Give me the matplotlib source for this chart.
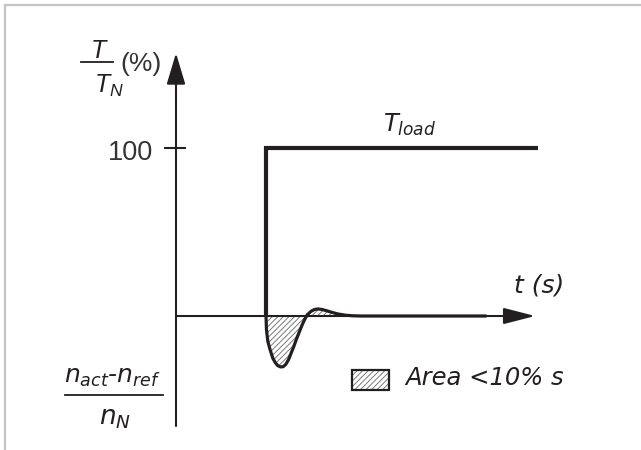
import matplotlib
matplotlib.use("Agg")
import matplotlib.pyplot as plt
from matplotlib.patches import Rectangle
from matplotlib.lines import Line2D

plt.rcParams["mathtext.fontset"] = "custom"
plt.rcParams["mathtext.it"] = "Liberation Sans:italic"
plt.rcParams["mathtext.rm"] = "Liberation Sans"
plt.rcParams["hatch.linewidth"] = 0.7

# Load torque step, percent of nominal torque
load_t = [1.0, 1.0, 4.02]
load_pct = [0, 100, 100]

# Speed deviation (n_act - n_ref) / n_N after the load step
speed_t = [1.00, 1.005, 1.02, 1.045, 1.075, 1.10, 1.13, 1.16, 1.19, 1.22,
           1.25, 1.28, 1.31, 1.34, 1.37, 1.40, 1.43, 1.46, 1.50, 1.54,
           1.58, 1.62, 1.67, 1.73, 1.80, 1.88, 1.96, 2.05, 3.45]
speed_dev = [0, -8, -15, -20, -25, -27.5, -29.5, -30.3, -30.2, -28.8,
             -26, -22, -18, -13.5, -9.5, -5.5, -2, 0.8, 2.8, 3.9,
             4.2, 3.9, 3.2, 2.2, 1.2, 0.5, 0.15, 0, 0]

y_ticks = [100]
y_tick_labels = ["100"]

INK = "#231f20"
GREY_TXT = "#333333"
HATCH = "#7a7a7a"

fig = plt.figure(figsize=(6.41, 4.5), dpi=100)
ax = fig.add_axes([0, 0, 1, 1])
ax.set_xlim(-1.9556, 5.1667)
ax.set_ylim(-79.76, 188.1)
ax.axis("off")

# light frame along the top and left edges
fig.add_artist(Line2D([5 / 641, 1], [1 - 5 / 450, 1 - 5 / 450],
                      transform=fig.transFigure, color="#c4c4c4", lw=1.6))
fig.add_artist(Line2D([5 / 641, 5 / 641], [0, 1 - 5 / 450],
                      transform=fig.transFigure, color="#c4c4c4", lw=1.6))

# axes with arrow heads
ax.annotate("", xy=(0, 156.5), xytext=(0, -65.5),
            arrowprops=dict(arrowstyle="-|>,head_length=19.4,head_width=5.8",
                            mutation_scale=1, lw=1.5, color=INK,
                            shrinkA=0, shrinkB=0))
ax.annotate("", xy=(3.99, 0), xytext=(0, 0),
            arrowprops=dict(arrowstyle="-|>,head_length=19.4,head_width=5.0",
                            mutation_scale=1, lw=1.5, color=INK,
                            shrinkA=0, shrinkB=0))

# tick mark and its label
for v, lab in zip(y_ticks, y_tick_labels):
    ax.plot([-0.133, 0.111], [v, v], color=INK, lw=1.5, solid_capstyle="butt")
    ax.text(-0.256, v - 7.1, lab, ha="right", va="baseline",
            fontsize=19.5, family="Liberation Sans", color=GREY_TXT)

# hatched area under the speed deviation
ax.fill_between(speed_t, speed_dev, 0, facecolor="white", hatch="//////",
                edgecolor=HATCH, linewidth=0, zorder=2)
ax.plot(speed_t, speed_dev, color=INK, lw=2.3, zorder=3,
        solid_capstyle="butt")

# load torque step
ax.plot(load_t, load_pct, color=INK, lw=3.0, zorder=4,
        solid_joinstyle="miter", solid_capstyle="butt")

# y-axis label: T / T_N (%)
ax.text(-0.867, 153.6, "T", ha="center", va="baseline", fontsize=18,
        family="Liberation Sans", style="italic", color=INK)
ax.plot([-1.0556, -0.70], [151.2, 151.2], color=INK, lw=1.3)
ax.text(-0.91, 132.7, r"$T_N$", ha="left", va="baseline", fontsize=18,
        math_fontfamily="custom", color=INK)
ax.text(-0.622, 150, "(%)", ha="left", va="center", fontsize=19,
        family="Liberation Sans", color=GREY_TXT)

# lower label: (n_act - n_ref) / n_N
ax.text(-0.706, -39.9, r"$n_{act}$-$n_{ref}$", ha="center", va="baseline",
        fontsize=18, math_fontfamily="dejavusans", family="DejaVu Sans",
        style="italic", color=INK)
ax.plot([-1.233, -0.144], [-47.0, -47.0], color=INK, lw=1.3)
ax.text(-0.678, -64.3, r"$n_N$", ha="center", va="baseline", fontsize=19,
        math_fontfamily="dejavusans", color=INK)

# curve and axis names
ax.text(2.3, 109.5, r"$T_{load}$", ha="left", va="baseline", fontsize=17.5,
        math_fontfamily="dejavusans", color=INK)
ax.text(3.756, 13.7, "t (s)", ha="left", va="baseline", fontsize=18,
        family="DejaVu Sans", style="italic", color=INK)

# legend entry for the hatched area
ax.add_patch(Rectangle((1.956, -44.05), 0.411, 11.9, facecolor="white",
                       hatch="//////", edgecolor=HATCH, linewidth=0))
ax.add_patch(Rectangle((1.956, -44.05), 0.411, 11.9, fill=False,
                       edgecolor=INK, linewidth=1.6))
ax.text(2.544, -41.1, "Area <10% s", ha="left", va="baseline", fontsize=17.5,
        family="DejaVu Sans", style="italic", color=INK)

fig.savefig("out.png", dpi=100)
